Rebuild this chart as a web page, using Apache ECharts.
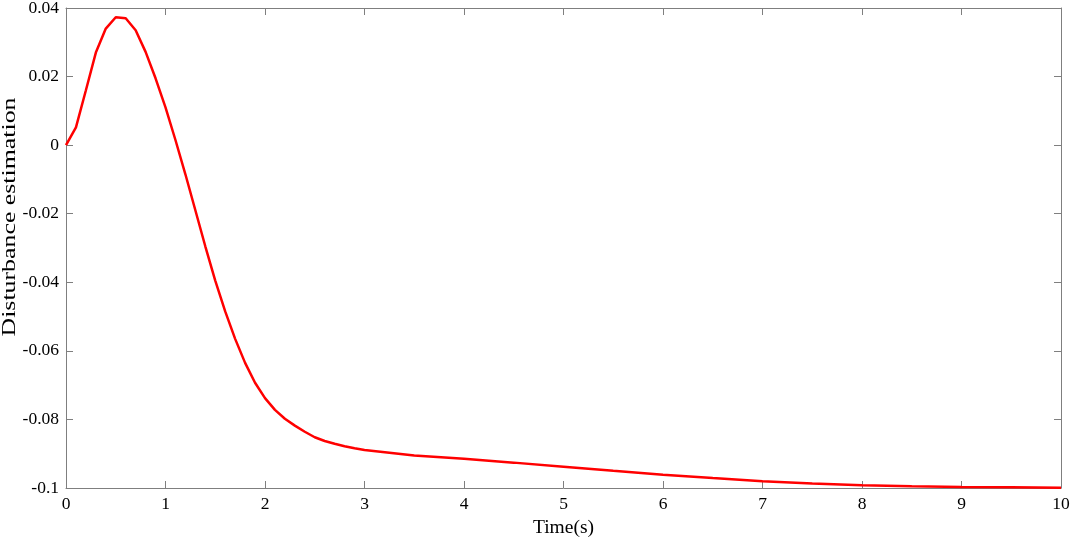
<!DOCTYPE html>
<html>
<head>
<meta charset="utf-8">
<script src="https://cdn.jsdelivr.net/npm/echarts@6/dist/echarts.min.js"></script>
<style>html,body{margin:0;padding:0;background:#fff;}#c{width:1072px;height:541px;}</style>
</head>
<body>
<div id="c"></div>
<script>
var times = [0,0.1,0.2,0.3,0.4,0.5,0.6,0.7,0.8,0.9,1.0,1.1,1.2,1.3,1.4,1.5,1.6,1.7,1.8,1.9,2.0,2.1,2.2,2.3,2.4,2.5,2.6,2.7,2.8,2.9,3.0,3.5,4.0,4.5,5.0,5.5,6.0,6.5,7.0,7.5,8.0,8.5,9.0,9.5,10.0];
var disturbance = [0,0.0052,0.0160,0.0270,0.0340,0.0373,0.0370,0.0335,0.0272,0.0195,0.0110,0.0015,-0.0085,-0.0190,-0.0295,-0.0395,-0.0485,-0.0565,-0.0635,-0.0693,-0.0738,-0.0772,-0.0798,-0.0818,-0.0836,-0.0852,-0.0863,-0.0871,-0.0878,-0.0884,-0.0889,-0.0905,-0.0915,-0.0926,-0.0938,-0.0950,-0.0961,-0.0971,-0.0980,-0.0987,-0.0992,-0.0995,-0.0997,-0.0998,-0.0999];
var xTicks = [0,1,2,3,4,5,6,7,8,9,10];
var yTicks = [-0.1,-0.08,-0.06,-0.04,-0.02,0,0.02,0.04];
var xName = 'Time(s)';
var yName = 'Disturbance estimation';

var pts = times.map(function(t,i){return [t, disturbance[i]];});
var font = 'Liberation Serif';
var axisColor = '#7f7f7f';
var chart = echarts.init(document.getElementById('c'));
function xa(pos, show){
  return {type:'value', position:pos, min:xTicks[0], max:xTicks[xTicks.length-1], interval:1,
    axisLine:{show:true, onZero:false, lineStyle:{color:axisColor, width:1}},
    axisTick:{show:true, inside:true, length:7, lineStyle:{color:axisColor}},
    splitLine:{show:false},
    axisLabel:{show:show, color:'#000', fontFamily:font, fontSize:17.5, margin:7,
      formatter:function(v){return String(Math.round(v));}},
    name: show ? xName : '', nameLocation:'middle', nameGap:28,
    nameTextStyle:{color:'#000', fontFamily:font, fontSize:19.5}};
}
function ya(pos, show){
  return {type:'value', position:pos, min:yTicks[0], max:yTicks[yTicks.length-1], interval:0.02,
    axisLine:{show:true, onZero:false, lineStyle:{color:axisColor, width:1}},
    axisTick:{show:true, inside:true, length:7, lineStyle:{color:axisColor}},
    splitLine:{show:false},
    axisLabel:{show:show, color:'#000', fontFamily:font, fontSize:17.5, margin:7,
      formatter:function(v){var r=Math.round(v*100)/100; return r===0?'0':String(r);}}};
}
chart.setOption({
  animation:false,
  backgroundColor:'#fff',
  grid:{left:66, right:11, top:8, height:480, containLabel:false, outerBoundsMode:'none'},
  xAxis:[xa('bottom', true), xa('top', false)],
  yAxis:[ya('left', true), ya('right', false)],
  graphic:[{type:'text', x:10, y:217, rotation:Math.PI/2, scaleX:1.36,
    style:{text:yName, fill:'#000', font:'19px "Liberation Serif"', textAlign:'center', textVerticalAlign:'middle'}}],
  series:[{type:'line', data:pts, xAxisIndex:0, yAxisIndex:0, showSymbol:false, smooth:false,
    lineStyle:{color:'#ff0000', width:2.5}}]
});
</script>
</body>
</html>
